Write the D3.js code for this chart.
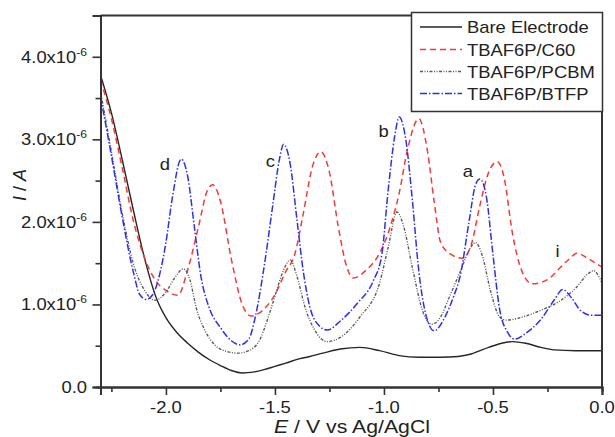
<!DOCTYPE html>
<html><head><meta charset="utf-8">
<script src="https://cdn.jsdelivr.net/npm/d3@7"></script>
<style>html,body{margin:0;padding:0;background:#fff;}svg{display:block;}</style>
</head><body>
<svg id="chart" width="615" height="437"></svg>
<script>
// ---- data (current in units of 1e-6 A, potential in V vs Ag/AgCl) ----
const seriesNames = ["Bare Electrode", "TBAF6P/C60", "TBAF6P/PCBM", "TBAF6P/BTFP"];
const bare = [[-2.30,3.78],[-2.25,3.32],[-2.20,2.75],[-2.15,2.15],[-2.10,1.58],[-2.04,1.05],[-2.00,0.84],[-1.95,0.66],[-1.90,0.53],[-1.85,0.42],[-1.80,0.33],[-1.75,0.26],[-1.70,0.20],[-1.65,0.17],[-1.60,0.18],[-1.55,0.21],[-1.50,0.25],[-1.45,0.29],[-1.39,0.34],[-1.34,0.37],[-1.28,0.41],[-1.20,0.46],[-1.11,0.48],[-1.02,0.44],[-0.93,0.38],[-0.84,0.36],[-0.74,0.36],[-0.66,0.37],[-0.60,0.40],[-0.52,0.48],[-0.46,0.53],[-0.41,0.55],[-0.35,0.53],[-0.28,0.48],[-0.22,0.45],[-0.12,0.44],[0.00,0.44]];
const c60 = [[-2.30,3.72],[-2.25,3.25],[-2.20,2.65],[-2.15,2.02],[-2.10,1.58],[-2.05,1.30],[-2.00,1.17],[-1.945,1.11],[-1.90,1.42],[-1.85,1.95],[-1.81,2.38],[-1.785,2.45],[-1.75,2.25],[-1.70,1.55],[-1.65,1.00],[-1.61,0.86],[-1.56,0.92],[-1.50,1.12],[-1.45,1.40],[-1.41,1.60],[-1.37,2.10],[-1.33,2.65],[-1.29,2.85],[-1.25,2.60],[-1.21,1.95],[-1.17,1.45],[-1.14,1.32],[-1.08,1.42],[-1.02,1.62],[-0.97,1.95],[-0.93,2.35],[-0.89,2.90],[-0.84,3.25],[-0.80,2.85],[-0.77,2.25],[-0.74,1.75],[-0.70,1.62],[-0.64,1.56],[-0.60,1.72],[-0.56,2.20],[-0.52,2.60],[-0.48,2.73],[-0.45,2.55],[-0.41,1.85],[-0.37,1.42],[-0.32,1.25],[-0.25,1.30],[-0.19,1.45],[-0.15,1.55],[-0.115,1.62],[-0.06,1.55],[0.00,1.45]];
const pcbm = [[-2.30,3.58],[-2.25,2.85],[-2.20,2.10],[-2.15,1.50],[-2.10,1.18],[-2.05,1.05],[-2.00,1.15],[-1.96,1.32],[-1.92,1.43],[-1.89,1.30],[-1.86,0.95],[-1.82,0.68],[-1.78,0.52],[-1.72,0.43],[-1.67,0.41],[-1.62,0.44],[-1.57,0.57],[-1.53,0.85],[-1.50,1.10],[-1.46,1.42],[-1.43,1.54],[-1.40,1.35],[-1.36,0.95],[-1.32,0.70],[-1.26,0.55],[-1.20,0.60],[-1.11,0.85],[-1.02,1.26],[-0.98,1.70],[-0.94,2.12],[-0.91,1.95],[-0.87,1.45],[-0.82,0.90],[-0.78,0.76],[-0.74,0.85],[-0.70,1.09],[-0.65,1.40],[-0.60,1.70],[-0.58,1.75],[-0.55,1.60],[-0.51,1.15],[-0.47,0.85],[-0.44,0.81],[-0.35,0.86],[-0.28,0.93],[-0.20,1.03],[-0.12,1.20],[-0.06,1.38],[-0.04,1.41],[0.00,1.26]];
const btfp = [[-2.30,3.52],[-2.25,2.80],[-2.20,2.05],[-2.15,1.40],[-2.12,1.12],[-2.09,1.06],[-2.06,1.12],[-2.03,1.35],[-2.00,1.75],[-1.97,2.30],[-1.93,2.76],[-1.90,2.55],[-1.87,1.95],[-1.84,1.35],[-1.80,0.95],[-1.75,0.72],[-1.70,0.56],[-1.66,0.51],[-1.62,0.58],[-1.59,0.85],[-1.55,1.45],[-1.51,2.20],[-1.48,2.75],[-1.46,2.94],[-1.43,2.70],[-1.40,2.05],[-1.37,1.40],[-1.34,0.97],[-1.30,0.75],[-1.26,0.69],[-1.20,0.80],[-1.12,1.02],[-1.05,1.28],[-1.01,1.60],[-0.98,2.40],[-0.95,3.05],[-0.93,3.27],[-0.90,3.00],[-0.87,2.27],[-0.84,1.40],[-0.81,0.90],[-0.77,0.68],[-0.72,0.85],[-0.68,1.10],[-0.65,1.35],[-0.61,2.00],[-0.58,2.45],[-0.56,2.52],[-0.53,2.30],[-0.50,1.60],[-0.47,0.95],[-0.43,0.65],[-0.40,0.58],[-0.35,0.65],[-0.28,0.82],[-0.22,1.05],[-0.18,1.18],[-0.14,1.08],[-0.10,0.93],[-0.05,0.87],[0.00,0.87]];
const xTicks = [-2.0, -1.5, -1.0, -0.5, 0.0];
const xTickLabels = ["-2.0", "-1.5", "-1.0", "-0.5", "0.0"];
const xMinorTicks = [-2.25, -1.75, -1.25, -0.75, -0.25];
const yTicks = [0, 1, 2, 3, 4];
const yTickLabels = ["0.0", "1.0x10", "2.0x10", "3.0x10", "4.0x10"];
const yMinorTicks = [0.5, 1.5, 2.5, 3.5];
const peakLabels = [["d",-2.005,2.63],["c",-1.521,2.667],["b",-1.002,3.03],["a",-0.615,2.545],["i",-0.204,1.576]];

// ---- layout ----
const SX = 1.15; // horizontal text stretch of the reference
const FONT = "'Liberation Sans', Arial, sans-serif";
const L = 100.5, R = 602, T = 15.5, B = 387;
const svg = d3.select("#chart");
const x = d3.scaleLinear().domain([-2.3, 0]).range([L, R]);
const y = d3.scaleLinear().domain([0, 4.5]).range([B, T]);

const styles = [
  {data: bare, color: "#262626", dash: null, w: 1.4},
  {data: c60, color: "#f23a3a", dash: "6,4", w: 1.5},
  {data: pcbm, color: "#5a5a5a", dash: "3,1.5,1,1.5,1,1.5", w: 1.4},
  {data: btfp, color: "#2f2fe8", dash: "7,2,1.5,2", w: 1.5}
];

function stext(g, px, py, size, anchor) {
  return g.append("text")
    .attr("transform", `translate(${px},${py}) scale(${SX},1)`)
    .attr("font-family", FONT).attr("font-size", size)
    .attr("text-anchor", anchor || "start").attr("fill", "#222");
}

// lines
const line = d3.line().x(d => x(d[0])).y(d => y(d[1])).curve(d3.curveMonotoneX);
svg.append("clipPath").attr("id", "clip").append("rect")
  .attr("x", L).attr("y", T).attr("width", R - L).attr("height", B - T);
const plot = svg.append("g").attr("clip-path", "url(#clip)");
styles.forEach(s => {
  plot.append("path").datum(s.data).attr("d", line)
    .attr("fill", "none").attr("stroke", s.color).attr("stroke-width", s.w)
    .attr("stroke-dasharray", s.dash).attr("stroke-linejoin", "round");
});

// axes
const axisColor = "#333";
const xAxis = svg.append("g").attr("transform", `translate(0,${B})`)
  .call(d3.axisBottom(x).tickValues(xTicks).tickSize(8).tickFormat(""));
const xMinor = svg.append("g").attr("transform", `translate(0,${B})`)
  .call(d3.axisBottom(x).tickValues(xMinorTicks).tickSize(5).tickFormat(""));
const yAxis = svg.append("g").attr("transform", `translate(${L},0)`)
  .call(d3.axisLeft(y).tickValues(yTicks).tickSize(8).tickFormat(""));
const yMinor = svg.append("g").attr("transform", `translate(${L},0)`)
  .call(d3.axisLeft(y).tickValues(yMinorTicks).tickSize(5).tickFormat(""));
[xAxis, xMinor, yAxis, yMinor].forEach(g => {
  g.selectAll("path").attr("stroke", axisColor).attr("stroke-width", 2);
  g.selectAll("line").attr("stroke", axisColor).attr("stroke-width", 1.6);
});
// top and right frame
svg.append("line").attr("x1", L).attr("x2", R).attr("y1", T).attr("y2", T)
  .attr("stroke", axisColor).attr("stroke-width", 2);
svg.append("line").attr("x1", R).attr("x2", R).attr("y1", T).attr("y2", B)
  .attr("stroke", axisColor).attr("stroke-width", 2);

// tick labels
xTicks.forEach((v, i) => {
  stext(svg, x(v), 413, 16, "middle").text(xTickLabels[i]);
});
yTicks.forEach((v, i) => {
  const t = stext(svg, 87, y(v) + 6, 16, "end");
  t.append("tspan").text(yTickLabels[i]);
  if (v !== 0) {
    t.append("tspan").attr("font-size", 10.5).attr("dy", -7).text("-6");
  }
});

// axis titles
const xt = stext(svg, 352, 433, 18.5, "middle");
xt.append("tspan").attr("font-style", "italic").text("E");
xt.append("tspan").text(" / V vs Ag/AgCl");
const yt = svg.append("text").attr("transform", "translate(26,185) rotate(-90)")
  .attr("font-family", FONT).attr("font-size", 18).attr("text-anchor", "middle").attr("fill", "#222");
yt.append("tspan").attr("font-style", "italic").text("I");
yt.append("tspan").text(" / ");
yt.append("tspan").attr("font-style", "italic").text("A");

// peak labels
peakLabels.forEach(p => {
  stext(svg, x(p[1]), y(p[2]), 16, "middle").text(p[0]);
});

// legend
const lg = svg.append("g");
lg.append("rect").attr("x", 411.5).attr("y", 12.5).attr("width", 191).attr("height", 99)
  .attr("fill", "#fff").attr("stroke", axisColor).attr("stroke-width", 1.5);
const rowY = [33, 55.5, 77.5, 99.5];
styles.forEach((s, i) => {
  lg.append("line").attr("x1", 420).attr("x2", 462).attr("y1", rowY[i] - 6).attr("y2", rowY[i] - 6)
    .attr("stroke", s.color).attr("stroke-width", s.w).attr("stroke-dasharray", s.dash);
  stext(lg, 467, rowY[i], 16, "start").text(seriesNames[i]);
});
</script>
</body></html>
